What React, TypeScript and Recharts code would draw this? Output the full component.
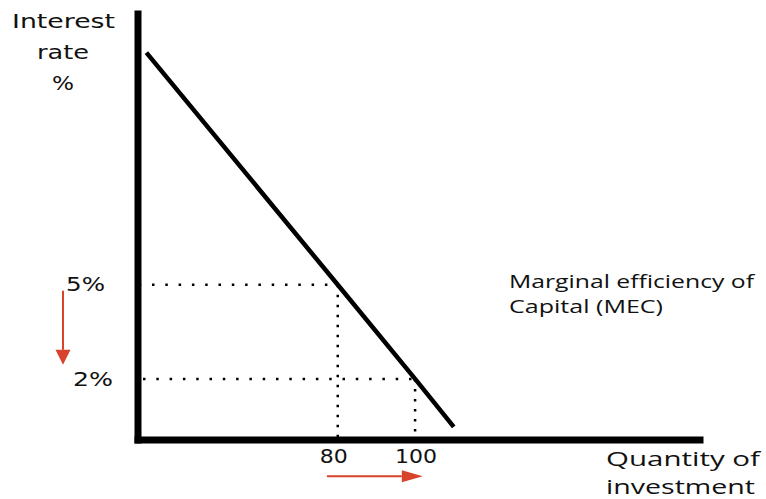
import React from "react";
import { ComposedChart, Line, XAxis, YAxis, ReferenceLine } from "recharts";

// MEC curve
const quantity = [30.5, 80, 100, 110];
const mecRate = [12.4, 5, 2, 0.47];

// the two marked points
const rateTicks = [5, 2];
const rateTickLabels = ["5%", "2%"];
const quantityTicks = [80, 100];
const quantityTickLabels = ["80", "100"];

const data = quantity.map((q, i) => ({ q, r: mecRate[i] }));

const Q_MIN = 28.33;
const Q_MAX = 173.7;
const R_MIN = 0.053;
const R_MAX = 13.63;

const RED = "#d8432b";
const SANS = "'DejaVu Sans', sans-serif";
const OPEN = "'Open Sans', 'Noto Sans', sans-serif";

const rateTickDx = [-72, -65];
const rateTickDy = [6, 7];
const rateTickLen = [39, 40];
const qTickDx = [-18, -20];
const qTickLen = [28, 42];

const RateTick = (props: any) => {
  const { x, y, payload } = props;
  const i = rateTicks.indexOf(payload.value);
  return (
    <text
      x={x + rateTickDx[i]}
      y={y + rateTickDy[i]}
      fontFamily={SANS}
      fontSize={20}
      fill="#111"
      textLength={rateTickLen[i]}
      lengthAdjust="spacingAndGlyphs"
    >
      {rateTickLabels[i]}
    </text>
  );
};

const QuantityTick = (props: any) => {
  const { x, y, payload } = props;
  const i = quantityTicks.indexOf(payload.value);
  return (
    <text
      x={x + qTickDx[i]}
      y={y + 23}
      fontFamily={SANS}
      fontSize={19}
      fill="#111"
      textLength={qTickLen[i]}
      lengthAdjust="spacingAndGlyphs"
    >
      {quantityTickLabels[i]}
    </text>
  );
};

const Arrow = (props: any) => {
  const { x1, y1, x2, y2, headLen, headHalf } = props;
  const ang = Math.atan2(y2 - y1, x2 - x1);
  const bx = x2 - headLen * Math.cos(ang);
  const by = y2 - headLen * Math.sin(ang);
  const px = -Math.sin(ang) * headHalf;
  const py = Math.cos(ang) * headHalf;
  return (
    <g>
      <line x1={x1} y1={y1} x2={bx} y2={by} stroke={RED} strokeWidth={2} />
      <polygon
        points={`${x2},${y2} ${bx + px},${by + py} ${bx - px},${by - py}`}
        fill={RED}
      />
    </g>
  );
};

const txt = (
  s: string,
  x: number,
  y: number,
  len: number,
  size: number,
  family: string,
  anchor: "start" | "middle" = "start"
) => (
  <text
    x={x}
    y={y}
    fontFamily={family}
    fontSize={size}
    fill="#111"
    textAnchor={anchor}
    textLength={len}
    lengthAdjust="spacingAndGlyphs"
  >
    {s}
  </text>
);

const axisLineStyle = { stroke: "#000", strokeWidth: 7, strokeLinecap: "square" as const };

export default function App() {
  return (
    <div style={{ position: "fixed", left: 0, top: 0, width: 766, height: 499, background: "#fff" }}>
      <ComposedChart
        width={766}
        height={499}
        data={data}
        margin={{ top: 14, right: 66, bottom: 29, left: 78 }}
      >
        <XAxis
          dataKey="q"
          type="number"
          domain={[Q_MIN, Q_MAX]}
          allowDataOverflow
          ticks={quantityTicks}
          height={30}
          tickSize={0}
          tickMargin={0}
          tickLine={false}
          axisLine={axisLineStyle}
          tick={<QuantityTick />}
        />
        <YAxis
          type="number"
          domain={[R_MIN, R_MAX]}
          allowDataOverflow
          ticks={rateTicks}
          width={60}
          tickSize={0}
          tickMargin={0}
          tickLine={false}
          axisLine={axisLineStyle}
          tick={<RateTick />}
        />
        {/* dotted guides */}
        <ReferenceLine
          segment={[{ x: Q_MIN, y: rateTicks[0] }, { x: quantityTicks[0], y: rateTicks[0] }]}
          stroke="#000"
          strokeWidth={2.5}
          strokeDasharray="2.5 10.8"
          strokeDashoffset={-0.7}
          ifOverflow="visible"
        />
        <ReferenceLine
          segment={[{ x: Q_MIN, y: rateTicks[1] }, { x: quantityTicks[1], y: rateTicks[1] }]}
          stroke="#000"
          strokeWidth={2.5}
          strokeDasharray="2.5 10.8"
          strokeDashoffset={-5}
          ifOverflow="visible"
        />
        <ReferenceLine
          segment={[{ x: quantityTicks[0], y: rateTicks[0] }, { x: quantityTicks[0], y: R_MIN }]}
          stroke="#000"
          strokeWidth={2.5}
          strokeDasharray="2.5 7.5"
          ifOverflow="visible"
        />
        <ReferenceLine
          segment={[{ x: quantityTicks[1], y: rateTicks[1] }, { x: quantityTicks[1], y: R_MIN }]}
          stroke="#000"
          strokeWidth={2.5}
          strokeDasharray="2.5 7.5"
          ifOverflow="visible"
        />
        <Line
          dataKey="r"
          type="linear"
          stroke="#000"
          strokeWidth={4.5}
          dot={false}
          activeDot={false}
          isAnimationActive={false}
        />
        {/* red arrows: rate falls, investment rises */}
        <ReferenceLine
          segment={[{ x: 8.93, y: 4.81 }, { x: 8.93, y: 2.45 }]}
          ifOverflow="visible"
          shape={(p: any) => <Arrow {...p} headLen={15} headHalf={7.5} />}
        />
        <ReferenceLine
          segment={[{ x: 77.2, y: -1.1 }, { x: 102, y: -1.1 }]}
          ifOverflow="visible"
          shape={(p: any) => <Arrow {...p} headLen={21} headHalf={6} />}
        />
      </ComposedChart>
      <svg
        width={766}
        height={499}
        style={{ position: "absolute", left: 0, top: 0, pointerEvents: "none" }}
      >
        {txt("Interest", 63.5, 28.3, 103, 19.5, SANS, "middle")}
        {txt("rate", 63, 59.3, 52, 19.5, SANS, "middle")}
        {txt("%", 63, 90, 22, 19.5, SANS, "middle")}
        {txt("Marginal efficiency of", 509, 288, 245, 18, OPEN)}
        {txt("Capital (MEC)", 509, 313, 154, 18, OPEN)}
        {txt("Quantity of", 606, 466, 154, 20, OPEN)}
        {txt("investment", 606, 494, 149, 20, OPEN)}
      </svg>
    </div>
  );
}
